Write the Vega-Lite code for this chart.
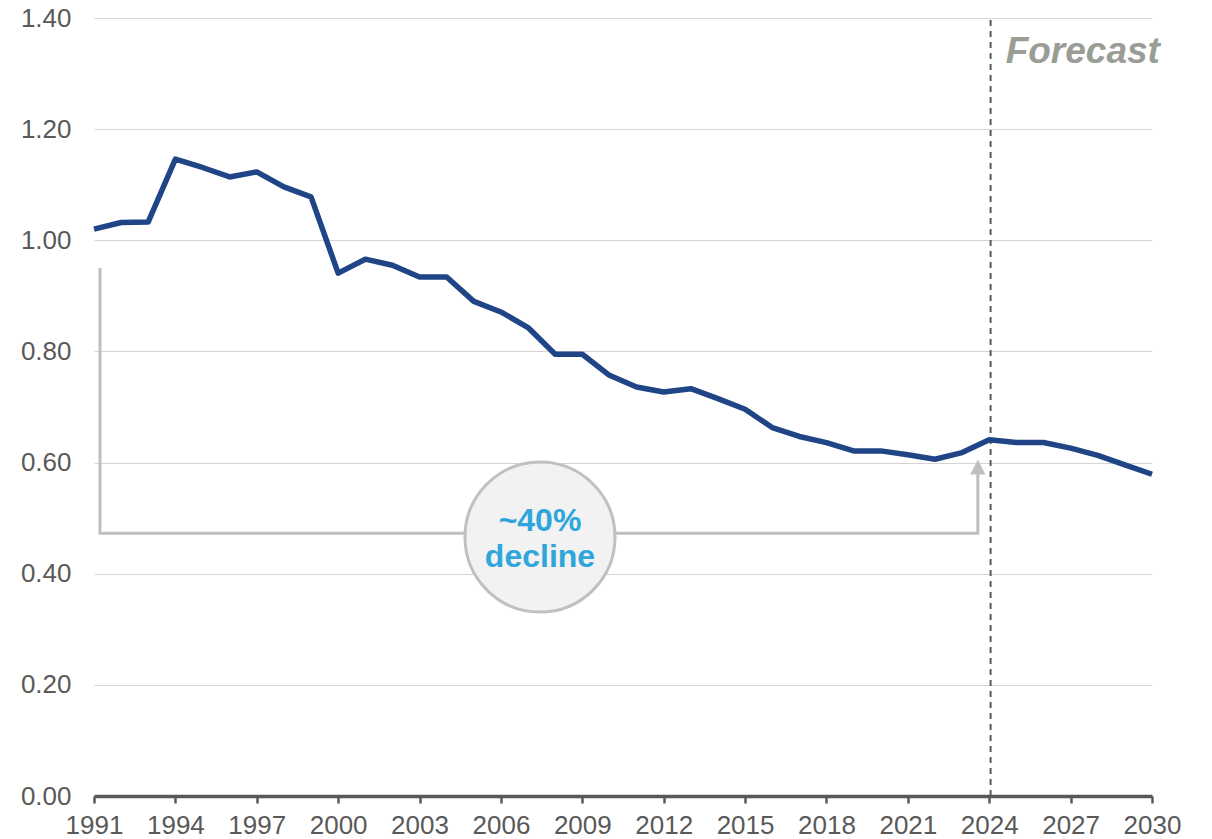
{
  "$schema": "https://vega.github.io/schema/vega-lite/v6.json",
  "width": 1058,
  "height": 778,
  "autosize": "none",
  "padding": {"left": 94, "top": 18, "right": 60, "bottom": 43},
  "background": "white",
  "config": {
    "view": {"stroke": null},
    "font": "Liberation Sans"
  },
  "datasets": {
    "series": [
      {"year": 1991, "value": 1.020}, {"year": 1992, "value": 1.032}, {"year": 1993, "value": 1.033},
      {"year": 1994, "value": 1.146}, {"year": 1995, "value": 1.131}, {"year": 1996, "value": 1.114},
      {"year": 1997, "value": 1.123}, {"year": 1998, "value": 1.096}, {"year": 1999, "value": 1.078},
      {"year": 2000, "value": 0.941}, {"year": 2001, "value": 0.966}, {"year": 2002, "value": 0.955},
      {"year": 2003, "value": 0.934}, {"year": 2004, "value": 0.934}, {"year": 2005, "value": 0.890},
      {"year": 2006, "value": 0.871}, {"year": 2007, "value": 0.843}, {"year": 2008, "value": 0.795},
      {"year": 2009, "value": 0.795}, {"year": 2010, "value": 0.757}, {"year": 2011, "value": 0.736},
      {"year": 2012, "value": 0.727}, {"year": 2013, "value": 0.733}, {"year": 2014, "value": 0.715},
      {"year": 2015, "value": 0.696}, {"year": 2016, "value": 0.663}, {"year": 2017, "value": 0.647},
      {"year": 2018, "value": 0.636}, {"year": 2019, "value": 0.621}, {"year": 2020, "value": 0.621},
      {"year": 2021, "value": 0.614}, {"year": 2022, "value": 0.606}, {"year": 2023, "value": 0.618},
      {"year": 2024, "value": 0.641}, {"year": 2025, "value": 0.636}, {"year": 2026, "value": 0.636},
      {"year": 2027, "value": 0.626}, {"year": 2028, "value": 0.613}, {"year": 2029, "value": 0.596},
      {"year": 2030, "value": 0.579}
    ],
    "bracket": [
      {"order": 1, "year": 1991.22, "value": 0.950},
      {"order": 2, "year": 1991.22, "value": 0.473},
      {"order": 3, "year": 2023.58, "value": 0.473},
      {"order": 4, "year": 2023.58, "value": 0.585}
    ],
    "arrowhead": [{"year": 2023.58, "value": 0.592}],
    "bubble": [{"year": 2007.44, "value": 0.466}],
    "bubbleText": [
      {"year": 2007.44, "value": 0.495, "label": "~40%"},
      {"year": 2007.44, "value": 0.430, "label": "decline"}
    ],
    "divider": [{"year": 2024.05, "lo": 0, "hi": 1.4}],
    "forecast": [{"label": "Forecast", "ty": 1.338, "tx": 2030.29}]
  },
  "encoding": {
    "x": {
      "field": "year", "type": "quantitative",
      "scale": {"domain": [1991, 2030], "nice": false, "zero": false},
      "axis": {
        "title": null,
        "values": [1991, 1994, 1997, 2000, 2003, 2006, 2009, 2012, 2015, 2018, 2021, 2024, 2027, 2030],
        "format": "d",
        "grid": false,
        "domainColor": "#595959", "domainWidth": 3.5,
        "tickColor": "#595959", "tickWidth": 2.5, "tickSize": 7,
        "labelFontSize": 26, "labelColor": "#595959", "labelPadding": 9,
        "labelFont": "Liberation Sans", "labelFlush": false, "labelOverlap": false
      }
    },
    "y": {
      "field": "value", "type": "quantitative",
      "scale": {"domain": [0, 1.4], "nice": false},
      "axis": {
        "title": null,
        "values": [0, 0.2, 0.4, 0.6, 0.8, 1.0, 1.2, 1.4],
        "format": ".2f",
        "domain": false, "ticks": false,
        "grid": true, "gridColor": "#d4d4d4", "gridWidth": 1,
        "labelFontSize": 26, "labelColor": "#595959", "labelPadding": 23,
        "labelFont": "Liberation Sans"
      }
    }
  },
  "layer": [
    {
      "data": {"name": "divider"},
      "mark": {"type": "rule", "color": "#595959", "strokeWidth": 2, "strokeDash": [6, 5]},
      "encoding": {
        "x": {"field": "year", "type": "quantitative"},
        "y": {"field": "lo", "type": "quantitative"},
        "y2": {"field": "hi"}
      }
    },
    {
      "data": {"name": "series"},
      "mark": {"type": "line", "color": "#1f4586", "strokeWidth": 5.5, "strokeJoin": "round"}
    },
    {
      "data": {"name": "bracket"},
      "mark": {"type": "line", "color": "#bfbfbf", "strokeWidth": 3},
      "encoding": {"order": {"field": "order"}}
    },
    {
      "data": {"name": "arrowhead"},
      "mark": {"type": "point", "shape": "M-1,1L0,-1L1,1Z", "filled": true, "color": "#bfbfbf", "size": 230, "opacity": 1}
    },
    {
      "data": {"name": "bubble"},
      "mark": {"type": "point", "shape": "circle", "filled": true, "fill": "#f2f2f2", "stroke": "#c0c0c0", "strokeWidth": 3, "size": 22500, "opacity": 1, "fillOpacity": 1}
    },
    {
      "data": {"name": "bubbleText"},
      "mark": {"type": "text", "color": "#2ea6dc", "fontSize": 32, "fontWeight": "bold", "align": "center", "baseline": "middle", "font": "Liberation Sans"},
      "encoding": {"text": {"field": "label"}}
    },
    {
      "data": {"name": "forecast"},
      "mark": {"type": "text", "color": "#999d95", "fontSize": 37, "fontWeight": "bold", "fontStyle": "italic", "align": "right", "baseline": "middle", "font": "Liberation Sans"},
      "encoding": {
        "x": {"field": "tx", "type": "quantitative"},
        "y": {"field": "ty", "type": "quantitative"},
        "text": {"field": "label"}
      }
    }
  ]
}
